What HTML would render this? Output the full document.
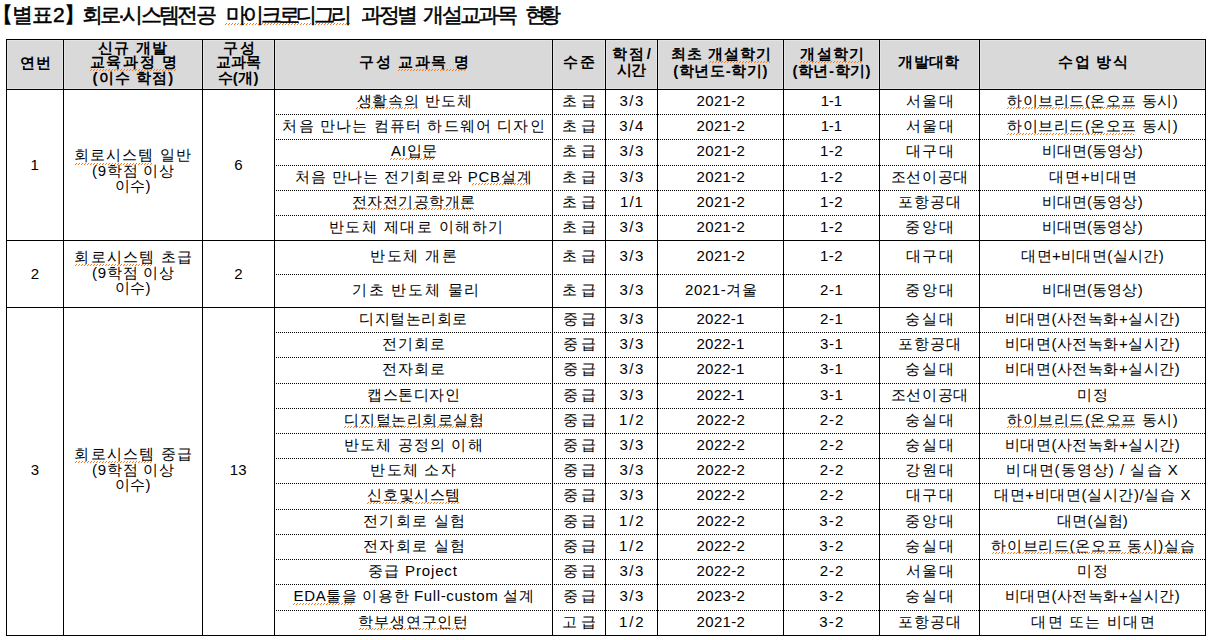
<!DOCTYPE html>
<html><head><meta charset="utf-8"><style>
html,body{margin:0;padding:0;background:#fff;width:1209px;height:640px;overflow:hidden}
body{position:relative;font-family:"Liberation Sans",sans-serif;color:#000}
.h{position:absolute;height:1px;background:#000}
.v{position:absolute;width:1px;background:#000}
.d{position:absolute;height:1px;background:repeating-linear-gradient(90deg,#000 0 1px,transparent 1px 2px)}
.hb{position:absolute;background:#d9d9d9;box-shadow:inset 0 0 0 1px #e3e3e3}
.t{position:absolute;height:0;line-height:0;text-align:center;white-space:nowrap;font-size:15px}
.b{font-weight:bold}
.tt{-webkit-text-stroke:0.5px #000}
.sq{position:absolute;height:2px}
.sq i,.sq b{position:absolute;left:0;right:0;height:1px;display:block}
.sq i{top:0;background:repeating-linear-gradient(90deg,transparent 0 1px,#ff7514 1px 2px,transparent 2px 3px)}
.sq b{top:1px;background:repeating-linear-gradient(90deg,#ff7514 0 1px,transparent 1px 3px)}
</style></head><body>
<div class="hb" style="left:7px;top:40px;width:56px;height:49px"></div>
<div class="hb" style="left:64px;top:40px;width:138px;height:49px"></div>
<div class="hb" style="left:203px;top:40px;width:71px;height:49px"></div>
<div class="hb" style="left:275px;top:40px;width:277px;height:49px"></div>
<div class="hb" style="left:553px;top:40px;width:52px;height:49px"></div>
<div class="hb" style="left:606px;top:40px;width:51px;height:49px"></div>
<div class="hb" style="left:658px;top:40px;width:125px;height:49px"></div>
<div class="hb" style="left:784px;top:40px;width:95px;height:49px"></div>
<div class="hb" style="left:880px;top:40px;width:99px;height:49px"></div>
<div class="hb" style="left:980px;top:40px;width:225px;height:49px"></div>
<div class="t b" style="left:-264.50px;width:600px;top:62.50px;letter-spacing:0.600px;text-indent:0.600px">연번</div>
<div class="t b" style="left:-167.65px;width:600px;top:47.50px;letter-spacing:1.295px;text-indent:1.295px">신규 개발</div>
<div class="t b" style="left:-166.50px;width:600px;top:62.40px;letter-spacing:1.632px;text-indent:1.632px">교육과정 명</div>
<div class="t b" style="left:-167.05px;width:600px;top:77.60px;letter-spacing:1.090px;text-indent:1.090px">(이수 학점)</div>
<div class="t b" style="left:-61.00px;width:600px;top:47.50px;letter-spacing:1.480px;text-indent:1.480px">구성</div>
<div class="t b" style="left:-61.50px;width:600px;top:62.40px;letter-spacing:0.200px;text-indent:0.200px">교과목</div>
<div class="t b" style="left:-62.00px;width:600px;top:77.60px;letter-spacing:0.333px;text-indent:0.333px">수(개)</div>
<div class="t b" style="left:114.00px;width:600px;top:62.00px;letter-spacing:1.537px;text-indent:1.537px">구성 교과목 명</div>
<div class="t b" style="left:279.00px;width:600px;top:62.00px;letter-spacing:1.640px;text-indent:1.640px">수준</div>
<div class="t b" style="left:331.35px;width:600px;top:53.80px;letter-spacing:2.470px;text-indent:2.470px">학점/</div>
<div class="t b" style="left:331.50px;width:600px;top:70.40px;letter-spacing:-0.840px;text-indent:-0.840px">시간</div>
<div class="t b" style="left:421.00px;width:600px;top:53.80px;letter-spacing:1.100px;text-indent:1.100px">최초 개설학기</div>
<div class="t b" style="left:420.40px;width:600px;top:70.60px;letter-spacing:0.623px;text-indent:0.623px">(학년도-학기)</div>
<div class="t b" style="left:532.15px;width:600px;top:53.80px;letter-spacing:1.180px;text-indent:1.180px">개설학기</div>
<div class="t b" style="left:531.50px;width:600px;top:70.60px;letter-spacing:0.527px;text-indent:0.527px">(학년-학기)</div>
<div class="t b" style="left:628.90px;width:600px;top:62.00px;letter-spacing:0.293px;text-indent:0.293px">개발대학</div>
<div class="t b" style="left:793.00px;width:600px;top:62.00px;letter-spacing:1.250px;text-indent:1.250px">수업 방식</div>
<div class="t" style="left:-265.25px;width:600px;top:164.60px">1</div>
<div class="t" style="left:-61.50px;width:600px;top:164.60px">6</div>
<div class="t" style="left:-167.50px;width:600px;top:155.30px;letter-spacing:1.000px;text-indent:1.000px">회로시스템 일반</div>
<div class="t" style="left:-167.05px;width:600px;top:170.80px;letter-spacing:0.723px;text-indent:0.723px">(9학점 이상</div>
<div class="t" style="left:-167.50px;width:600px;top:186.30px;letter-spacing:0.400px;text-indent:0.400px">이수)</div>
<div class="t" style="left:114.20px;width:600px;top:100.50px;letter-spacing:0.880px;text-indent:0.880px">생활속의 반도체</div>
<div class="t" style="left:279.00px;width:600px;top:100.50px;letter-spacing:3.360px;text-indent:3.360px">초급</div>
<div class="t" style="left:331.45px;width:600px;top:100.50px;letter-spacing:1.430px;text-indent:1.430px">3/3</div>
<div class="t" style="left:420.80px;width:600px;top:100.50px;letter-spacing:0.328px;text-indent:0.328px">2021-2</div>
<div class="t" style="left:531.35px;width:600px;top:100.50px;letter-spacing:-0.150px;text-indent:-0.150px">1-1</div>
<div class="t" style="left:630.00px;width:600px;top:100.50px;letter-spacing:1.300px;text-indent:1.300px">서울대</div>
<div class="t" style="left:792.55px;width:600px;top:100.50px;letter-spacing:0.522px;text-indent:0.522px">하이브리드(온오프 동시)</div>
<div class="t" style="left:113.50px;width:600px;top:125.50px;letter-spacing:1.142px;text-indent:1.142px">처음 만나는 컴퓨터 하드웨어 디자인</div>
<div class="t" style="left:279.00px;width:600px;top:125.50px;letter-spacing:3.360px;text-indent:3.360px">초급</div>
<div class="t" style="left:331.25px;width:600px;top:125.50px;letter-spacing:1.630px;text-indent:1.630px">3/4</div>
<div class="t" style="left:420.80px;width:600px;top:125.50px;letter-spacing:0.328px;text-indent:0.328px">2021-2</div>
<div class="t" style="left:531.35px;width:600px;top:125.50px;letter-spacing:-0.150px;text-indent:-0.150px">1-1</div>
<div class="t" style="left:630.00px;width:600px;top:125.50px;letter-spacing:1.300px;text-indent:1.300px">서울대</div>
<div class="t" style="left:792.55px;width:600px;top:125.50px;letter-spacing:0.522px;text-indent:0.522px">하이브리드(온오프 동시)</div>
<div class="d" style="top:114px;left:276px;width:929px"></div>
<div class="t" style="left:114.20px;width:600px;top:151.00px;letter-spacing:0.653px;text-indent:0.653px">AI입문</div>
<div class="t" style="left:279.00px;width:600px;top:151.00px;letter-spacing:3.360px;text-indent:3.360px">초급</div>
<div class="t" style="left:331.45px;width:600px;top:151.00px;letter-spacing:1.430px;text-indent:1.430px">3/3</div>
<div class="t" style="left:420.80px;width:600px;top:151.00px;letter-spacing:0.328px;text-indent:0.328px">2021-2</div>
<div class="t" style="left:531.25px;width:600px;top:151.00px;letter-spacing:0.470px;text-indent:0.470px">1-2</div>
<div class="t" style="left:630.00px;width:600px;top:151.00px;letter-spacing:1.300px;text-indent:1.300px">대구대</div>
<div class="t" style="left:792.15px;width:600px;top:151.00px;letter-spacing:0.146px;text-indent:0.146px">비대면(동영상)</div>
<div class="d" style="top:139px;left:276px;width:929px"></div>
<div class="t" style="left:113.45px;width:600px;top:176.50px;letter-spacing:0.768px;text-indent:0.768px">처음 만나는 전기회로와 PCB설계</div>
<div class="t" style="left:279.00px;width:600px;top:176.50px;letter-spacing:3.360px;text-indent:3.360px">초급</div>
<div class="t" style="left:331.45px;width:600px;top:176.50px;letter-spacing:1.430px;text-indent:1.430px">3/3</div>
<div class="t" style="left:420.80px;width:600px;top:176.50px;letter-spacing:0.328px;text-indent:0.328px">2021-2</div>
<div class="t" style="left:531.25px;width:600px;top:176.50px;letter-spacing:0.470px;text-indent:0.470px">1-2</div>
<div class="t" style="left:629.50px;width:600px;top:176.50px;letter-spacing:0.730px;text-indent:0.730px">조선이공대</div>
<div class="t" style="left:793.00px;width:600px;top:176.50px;letter-spacing:0.664px;text-indent:0.664px">대면+비대면</div>
<div class="d" style="top:165px;left:276px;width:929px"></div>
<div class="t" style="left:113.50px;width:600px;top:201.50px;letter-spacing:0.554px;text-indent:0.554px">전자전기공학개론</div>
<div class="t" style="left:279.00px;width:600px;top:201.50px;letter-spacing:3.360px;text-indent:3.360px">초급</div>
<div class="t" style="left:331.50px;width:600px;top:201.50px;letter-spacing:1.000px;text-indent:1.000px">1/1</div>
<div class="t" style="left:420.80px;width:600px;top:201.50px;letter-spacing:0.328px;text-indent:0.328px">2021-2</div>
<div class="t" style="left:531.25px;width:600px;top:201.50px;letter-spacing:0.470px;text-indent:0.470px">1-2</div>
<div class="t" style="left:629.40px;width:600px;top:201.50px;letter-spacing:0.800px;text-indent:0.800px">포항공대</div>
<div class="t" style="left:792.15px;width:600px;top:201.50px;letter-spacing:0.146px;text-indent:0.146px">비대면(동영상)</div>
<div class="d" style="top:190px;left:276px;width:929px"></div>
<div class="t" style="left:116.00px;width:600px;top:226.50px;letter-spacing:1.462px;text-indent:1.462px">반도체 제대로 이해하기</div>
<div class="t" style="left:279.00px;width:600px;top:226.50px;letter-spacing:3.360px;text-indent:3.360px">초급</div>
<div class="t" style="left:331.45px;width:600px;top:226.50px;letter-spacing:1.430px;text-indent:1.430px">3/3</div>
<div class="t" style="left:420.80px;width:600px;top:226.50px;letter-spacing:0.328px;text-indent:0.328px">2021-2</div>
<div class="t" style="left:531.25px;width:600px;top:226.50px;letter-spacing:0.470px;text-indent:0.470px">1-2</div>
<div class="t" style="left:629.65px;width:600px;top:226.50px;letter-spacing:1.650px;text-indent:1.650px">중앙대</div>
<div class="t" style="left:792.15px;width:600px;top:226.50px;letter-spacing:0.146px;text-indent:0.146px">비대면(동영상)</div>
<div class="d" style="top:215px;left:276px;width:929px"></div>
<div class="t" style="left:-265.00px;width:600px;top:274.00px">2</div>
<div class="t" style="left:-61.50px;width:600px;top:274.00px">2</div>
<div class="t" style="left:-166.85px;width:600px;top:257.20px;letter-spacing:1.203px;text-indent:1.203px">회로시스템 초급</div>
<div class="t" style="left:-167.05px;width:600px;top:272.60px;letter-spacing:0.723px;text-indent:0.723px">(9학점 이상</div>
<div class="t" style="left:-167.50px;width:600px;top:288.00px;letter-spacing:0.400px;text-indent:0.400px">이수)</div>
<div class="t" style="left:113.50px;width:600px;top:256.00px;letter-spacing:1.376px;text-indent:1.376px">반도체 개론</div>
<div class="t" style="left:279.00px;width:600px;top:256.00px;letter-spacing:3.360px;text-indent:3.360px">초급</div>
<div class="t" style="left:331.45px;width:600px;top:256.00px;letter-spacing:1.430px;text-indent:1.430px">3/3</div>
<div class="t" style="left:420.80px;width:600px;top:256.00px;letter-spacing:0.328px;text-indent:0.328px">2021-2</div>
<div class="t" style="left:531.25px;width:600px;top:256.00px;letter-spacing:0.470px;text-indent:0.470px">1-2</div>
<div class="t" style="left:630.00px;width:600px;top:256.00px;letter-spacing:1.300px;text-indent:1.300px">대구대</div>
<div class="t" style="left:792.50px;width:600px;top:256.00px;letter-spacing:0.400px;text-indent:0.400px">대면+비대면(실시간)</div>
<div class="t" style="left:115.65px;width:600px;top:289.50px;letter-spacing:1.797px;text-indent:1.797px">기초 반도체 물리</div>
<div class="t" style="left:279.00px;width:600px;top:289.50px;letter-spacing:3.360px;text-indent:3.360px">초급</div>
<div class="t" style="left:331.45px;width:600px;top:289.50px;letter-spacing:1.430px;text-indent:1.430px">3/3</div>
<div class="t" style="left:420.95px;width:600px;top:289.50px;letter-spacing:0.577px;text-indent:0.577px">2021-겨울</div>
<div class="t" style="left:531.50px;width:600px;top:289.50px;letter-spacing:0.640px;text-indent:0.640px">2-1</div>
<div class="t" style="left:629.65px;width:600px;top:289.50px;letter-spacing:1.650px;text-indent:1.650px">중앙대</div>
<div class="t" style="left:792.15px;width:600px;top:289.50px;letter-spacing:0.146px;text-indent:0.146px">비대면(동영상)</div>
<div class="d" style="top:274px;left:276px;width:929px"></div>
<div class="t" style="left:-265.00px;width:600px;top:470.10px">3</div>
<div class="t" style="left:-61.85px;width:600px;top:470.10px">13</div>
<div class="t" style="left:-166.85px;width:600px;top:454.40px;letter-spacing:1.203px;text-indent:1.203px">회로시스템 중급</div>
<div class="t" style="left:-167.05px;width:600px;top:469.50px;letter-spacing:0.723px;text-indent:0.723px">(9학점 이상</div>
<div class="t" style="left:-167.50px;width:600px;top:484.50px;letter-spacing:0.400px;text-indent:0.400px">이수)</div>
<div class="t" style="left:113.40px;width:600px;top:318.50px;letter-spacing:0.520px;text-indent:0.520px">디지털논리회로</div>
<div class="t" style="left:279.15px;width:600px;top:318.50px;letter-spacing:3.060px;text-indent:3.060px">중급</div>
<div class="t" style="left:331.45px;width:600px;top:318.50px;letter-spacing:1.430px;text-indent:1.430px">3/3</div>
<div class="t" style="left:420.50px;width:600px;top:318.50px;letter-spacing:0.240px;text-indent:0.240px">2022-1</div>
<div class="t" style="left:531.50px;width:600px;top:318.50px;letter-spacing:0.640px;text-indent:0.640px">2-1</div>
<div class="t" style="left:629.65px;width:600px;top:318.50px;letter-spacing:1.650px;text-indent:1.650px">숭실대</div>
<div class="t" style="left:792.30px;width:600px;top:318.50px;letter-spacing:0.497px;text-indent:0.497px">비대면(사전녹화+실시간)</div>
<div class="t" style="left:113.40px;width:600px;top:343.50px;letter-spacing:1.240px;text-indent:1.240px">전기회로</div>
<div class="t" style="left:279.15px;width:600px;top:343.50px;letter-spacing:3.060px;text-indent:3.060px">중급</div>
<div class="t" style="left:331.45px;width:600px;top:343.50px;letter-spacing:1.430px;text-indent:1.430px">3/3</div>
<div class="t" style="left:420.50px;width:600px;top:343.50px;letter-spacing:0.240px;text-indent:0.240px">2022-1</div>
<div class="t" style="left:531.50px;width:600px;top:343.50px;letter-spacing:0.640px;text-indent:0.640px">3-1</div>
<div class="t" style="left:629.40px;width:600px;top:343.50px;letter-spacing:0.800px;text-indent:0.800px">포항공대</div>
<div class="t" style="left:792.30px;width:600px;top:343.50px;letter-spacing:0.497px;text-indent:0.497px">비대면(사전녹화+실시간)</div>
<div class="d" style="top:332px;left:276px;width:929px"></div>
<div class="t" style="left:113.40px;width:600px;top:369.00px;letter-spacing:1.240px;text-indent:1.240px">전자회로</div>
<div class="t" style="left:279.15px;width:600px;top:369.00px;letter-spacing:3.060px;text-indent:3.060px">중급</div>
<div class="t" style="left:331.45px;width:600px;top:369.00px;letter-spacing:1.430px;text-indent:1.430px">3/3</div>
<div class="t" style="left:420.50px;width:600px;top:369.00px;letter-spacing:0.240px;text-indent:0.240px">2022-1</div>
<div class="t" style="left:531.50px;width:600px;top:369.00px;letter-spacing:0.640px;text-indent:0.640px">3-1</div>
<div class="t" style="left:629.65px;width:600px;top:369.00px;letter-spacing:1.650px;text-indent:1.650px">숭실대</div>
<div class="t" style="left:792.30px;width:600px;top:369.00px;letter-spacing:0.497px;text-indent:0.497px">비대면(사전녹화+실시간)</div>
<div class="d" style="top:357px;left:276px;width:929px"></div>
<div class="t" style="left:113.40px;width:600px;top:394.50px;letter-spacing:0.480px;text-indent:0.480px">캡스톤디자인</div>
<div class="t" style="left:279.15px;width:600px;top:394.50px;letter-spacing:3.060px;text-indent:3.060px">중급</div>
<div class="t" style="left:331.45px;width:600px;top:394.50px;letter-spacing:1.430px;text-indent:1.430px">3/3</div>
<div class="t" style="left:420.50px;width:600px;top:394.50px;letter-spacing:0.240px;text-indent:0.240px">2022-1</div>
<div class="t" style="left:531.50px;width:600px;top:394.50px;letter-spacing:0.640px;text-indent:0.640px">3-1</div>
<div class="t" style="left:629.50px;width:600px;top:394.50px;letter-spacing:0.730px;text-indent:0.730px">조선이공대</div>
<div class="t" style="left:792.50px;width:600px;top:394.50px;letter-spacing:1.800px;text-indent:1.800px">미정</div>
<div class="d" style="top:383px;left:276px;width:929px"></div>
<div class="t" style="left:114.05px;width:600px;top:419.50px;letter-spacing:0.512px;text-indent:0.512px">디지털논리회로실험</div>
<div class="t" style="left:279.15px;width:600px;top:419.50px;letter-spacing:3.060px;text-indent:3.060px">중급</div>
<div class="t" style="left:331.25px;width:600px;top:419.50px;letter-spacing:1.850px;text-indent:1.850px">1/2</div>
<div class="t" style="left:420.80px;width:600px;top:419.50px;letter-spacing:0.328px;text-indent:0.328px">2022-2</div>
<div class="t" style="left:531.50px;width:600px;top:419.50px;letter-spacing:0.900px;text-indent:0.900px">2-2</div>
<div class="t" style="left:629.65px;width:600px;top:419.50px;letter-spacing:1.650px;text-indent:1.650px">숭실대</div>
<div class="t" style="left:792.55px;width:600px;top:419.50px;letter-spacing:0.522px;text-indent:0.522px">하이브리드(온오프 동시)</div>
<div class="d" style="top:408px;left:276px;width:929px"></div>
<div class="t" style="left:113.30px;width:600px;top:444.50px;letter-spacing:1.156px;text-indent:1.156px">반도체 공정의 이해</div>
<div class="t" style="left:279.15px;width:600px;top:444.50px;letter-spacing:3.060px;text-indent:3.060px">중급</div>
<div class="t" style="left:331.45px;width:600px;top:444.50px;letter-spacing:1.430px;text-indent:1.430px">3/3</div>
<div class="t" style="left:420.80px;width:600px;top:444.50px;letter-spacing:0.328px;text-indent:0.328px">2022-2</div>
<div class="t" style="left:531.50px;width:600px;top:444.50px;letter-spacing:0.900px;text-indent:0.900px">2-2</div>
<div class="t" style="left:629.65px;width:600px;top:444.50px;letter-spacing:1.650px;text-indent:1.650px">숭실대</div>
<div class="t" style="left:792.30px;width:600px;top:444.50px;letter-spacing:0.497px;text-indent:0.497px">비대면(사전녹화+실시간)</div>
<div class="d" style="top:433px;left:276px;width:929px"></div>
<div class="t" style="left:113.05px;width:600px;top:469.50px;letter-spacing:1.196px;text-indent:1.196px">반도체 소자</div>
<div class="t" style="left:279.15px;width:600px;top:469.50px;letter-spacing:3.060px;text-indent:3.060px">중급</div>
<div class="t" style="left:331.45px;width:600px;top:469.50px;letter-spacing:1.430px;text-indent:1.430px">3/3</div>
<div class="t" style="left:420.80px;width:600px;top:469.50px;letter-spacing:0.328px;text-indent:0.328px">2022-2</div>
<div class="t" style="left:531.50px;width:600px;top:469.50px;letter-spacing:0.900px;text-indent:0.900px">2-2</div>
<div class="t" style="left:629.50px;width:600px;top:469.50px;letter-spacing:1.800px;text-indent:1.800px">강원대</div>
<div class="t" style="left:792.15px;width:600px;top:469.50px;letter-spacing:1.050px;text-indent:1.050px">비대면(동영상) / 실습 X</div>
<div class="d" style="top:458px;left:276px;width:929px"></div>
<div class="t" style="left:113.85px;width:600px;top:495.00px;letter-spacing:0.652px;text-indent:0.652px">신호및시스템</div>
<div class="t" style="left:279.15px;width:600px;top:495.00px;letter-spacing:3.060px;text-indent:3.060px">중급</div>
<div class="t" style="left:331.45px;width:600px;top:495.00px;letter-spacing:1.430px;text-indent:1.430px">3/3</div>
<div class="t" style="left:420.80px;width:600px;top:495.00px;letter-spacing:0.328px;text-indent:0.328px">2022-2</div>
<div class="t" style="left:531.50px;width:600px;top:495.00px;letter-spacing:0.900px;text-indent:0.900px">2-2</div>
<div class="t" style="left:630.00px;width:600px;top:495.00px;letter-spacing:1.300px;text-indent:1.300px">대구대</div>
<div class="t" style="left:792.25px;width:600px;top:495.00px;letter-spacing:0.615px;text-indent:0.615px">대면+비대면(실시간)/실습 X</div>
<div class="d" style="top:483px;left:276px;width:929px"></div>
<div class="t" style="left:114.00px;width:600px;top:520.50px;letter-spacing:1.300px;text-indent:1.300px">전기회로 실험</div>
<div class="t" style="left:279.15px;width:600px;top:520.50px;letter-spacing:3.060px;text-indent:3.060px">중급</div>
<div class="t" style="left:331.25px;width:600px;top:520.50px;letter-spacing:1.850px;text-indent:1.850px">1/2</div>
<div class="t" style="left:420.80px;width:600px;top:520.50px;letter-spacing:0.328px;text-indent:0.328px">2022-2</div>
<div class="t" style="left:531.25px;width:600px;top:520.50px;letter-spacing:1.150px;text-indent:1.150px">3-2</div>
<div class="t" style="left:629.65px;width:600px;top:520.50px;letter-spacing:1.650px;text-indent:1.650px">중앙대</div>
<div class="t" style="left:792.50px;width:600px;top:520.50px;letter-spacing:0.152px;text-indent:0.152px">대면(실험)</div>
<div class="d" style="top:509px;left:276px;width:929px"></div>
<div class="t" style="left:114.00px;width:600px;top:545.50px;letter-spacing:1.300px;text-indent:1.300px">전자회로 실험</div>
<div class="t" style="left:279.15px;width:600px;top:545.50px;letter-spacing:3.060px;text-indent:3.060px">중급</div>
<div class="t" style="left:331.25px;width:600px;top:545.50px;letter-spacing:1.850px;text-indent:1.850px">1/2</div>
<div class="t" style="left:420.80px;width:600px;top:545.50px;letter-spacing:0.328px;text-indent:0.328px">2022-2</div>
<div class="t" style="left:531.25px;width:600px;top:545.50px;letter-spacing:1.150px;text-indent:1.150px">3-2</div>
<div class="t" style="left:629.65px;width:600px;top:545.50px;letter-spacing:1.650px;text-indent:1.650px">숭실대</div>
<div class="t" style="left:793.00px;width:600px;top:545.50px;letter-spacing:0.649px;text-indent:0.649px">하이브리드(온오프 동시)실습</div>
<div class="d" style="top:534px;left:276px;width:929px"></div>
<div class="t" style="left:112.65px;width:600px;top:570.50px;letter-spacing:0.833px;text-indent:0.833px">중급 Project</div>
<div class="t" style="left:279.15px;width:600px;top:570.50px;letter-spacing:3.060px;text-indent:3.060px">중급</div>
<div class="t" style="left:331.45px;width:600px;top:570.50px;letter-spacing:1.430px;text-indent:1.430px">3/3</div>
<div class="t" style="left:420.80px;width:600px;top:570.50px;letter-spacing:0.328px;text-indent:0.328px">2022-2</div>
<div class="t" style="left:531.50px;width:600px;top:570.50px;letter-spacing:0.900px;text-indent:0.900px">2-2</div>
<div class="t" style="left:630.00px;width:600px;top:570.50px;letter-spacing:1.300px;text-indent:1.300px">서울대</div>
<div class="t" style="left:792.50px;width:600px;top:570.50px;letter-spacing:1.800px;text-indent:1.800px">미정</div>
<div class="d" style="top:559px;left:276px;width:929px"></div>
<div class="t" style="left:113.70px;width:600px;top:596.00px;letter-spacing:0.623px;text-indent:0.623px">EDA툴을 이용한 Full-custom 설계</div>
<div class="t" style="left:279.15px;width:600px;top:596.00px;letter-spacing:3.060px;text-indent:3.060px">중급</div>
<div class="t" style="left:331.45px;width:600px;top:596.00px;letter-spacing:1.430px;text-indent:1.430px">3/3</div>
<div class="t" style="left:420.80px;width:600px;top:596.00px;letter-spacing:0.328px;text-indent:0.328px">2023-2</div>
<div class="t" style="left:531.25px;width:600px;top:596.00px;letter-spacing:1.150px;text-indent:1.150px">3-2</div>
<div class="t" style="left:629.65px;width:600px;top:596.00px;letter-spacing:1.650px;text-indent:1.650px">숭실대</div>
<div class="t" style="left:792.30px;width:600px;top:596.00px;letter-spacing:0.497px;text-indent:0.497px">비대면(사전녹화+실시간)</div>
<div class="d" style="top:584px;left:276px;width:929px"></div>
<div class="t" style="left:113.35px;width:600px;top:621.50px;letter-spacing:0.823px;text-indent:0.823px">학부생연구인턴</div>
<div class="t" style="left:279.00px;width:600px;top:621.50px;letter-spacing:3.360px;text-indent:3.360px">고급</div>
<div class="t" style="left:331.25px;width:600px;top:621.50px;letter-spacing:1.850px;text-indent:1.850px">1/2</div>
<div class="t" style="left:420.80px;width:600px;top:621.50px;letter-spacing:0.328px;text-indent:0.328px">2021-2</div>
<div class="t" style="left:531.25px;width:600px;top:621.50px;letter-spacing:1.150px;text-indent:1.150px">3-2</div>
<div class="t" style="left:629.40px;width:600px;top:621.50px;letter-spacing:0.800px;text-indent:0.800px">포항공대</div>
<div class="t" style="left:793.00px;width:600px;top:621.50px;letter-spacing:1.225px;text-indent:1.225px">대면 또는 비대면</div>
<div class="d" style="top:610px;left:276px;width:929px"></div>
<div class="h" style="top:39px;left:6px;width:1200px"></div>
<div class="h" style="top:89px;left:6px;width:1200px"></div>
<div class="h" style="top:240px;left:6px;width:1200px"></div>
<div class="h" style="top:307px;left:6px;width:1200px"></div>
<div class="h" style="top:635px;left:6px;width:1200px"></div>
<div class="v" style="left:6px;top:39px;height:597px"></div>
<div class="v" style="left:63px;top:39px;height:597px"></div>
<div class="v" style="left:202px;top:39px;height:597px"></div>
<div class="v" style="left:274px;top:39px;height:597px"></div>
<div class="v" style="left:552px;top:39px;height:597px"></div>
<div class="v" style="left:605px;top:39px;height:597px"></div>
<div class="v" style="left:657px;top:39px;height:597px"></div>
<div class="v" style="left:783px;top:39px;height:597px"></div>
<div class="v" style="left:879px;top:39px;height:597px"></div>
<div class="v" style="left:979px;top:39px;height:597px"></div>
<div class="v" style="left:1205px;top:39px;height:597px"></div>
<div class="sq" style="left:225px;top:23px;width:126px"><i></i><b></b></div>
<div class="sq" style="left:90px;top:69px;width:86px"><i></i><b></b></div>
<div class="sq" style="left:398px;top:69px;width:69px"><i></i><b></b></div>
<div class="sq" style="left:709px;top:61px;width:61px"><i></i><b></b></div>
<div class="sq" style="left:800px;top:61px;width:62px"><i></i><b></b></div>
<div class="sq" style="left:356px;top:107px;width:62px"><i></i><b></b></div>
<div class="sq" style="left:390px;top:158px;width:45px"><i></i><b></b></div>
<div class="sq" style="left:472px;top:183px;width:58px"><i></i><b></b></div>
<div class="sq" style="left:353px;top:208px;width:121px"><i></i><b></b></div>
<div class="sq" style="left:1007px;top:107px;width:127px"><i></i><b></b></div>
<div class="sq" style="left:1007px;top:133px;width:127px"><i></i><b></b></div>
<div class="sq" style="left:75px;top:163px;width:78px"><i></i><b></b></div>
<div class="sq" style="left:75px;top:264px;width:78px"><i></i><b></b></div>
<div class="sq" style="left:75px;top:461px;width:78px"><i></i><b></b></div>
<div class="sq" style="left:344px;top:426px;width:138px"><i></i><b></b></div>
<div class="sq" style="left:1007px;top:426px;width:127px"><i></i><b></b></div>
<div class="sq" style="left:367px;top:502px;width:93px"><i></i><b></b></div>
<div class="sq" style="left:992px;top:552px;width:201px"><i></i><b></b></div>
<div class="sq" style="left:293px;top:603px;width:60px"><i></i><b></b></div>
<div class="sq" style="left:359px;top:628px;width:108px"><i></i><b></b></div>
<div class="t tt" style="left:-261.66px;width:600px;top:14.60px;font-size:21px;letter-spacing:-0.520px;text-indent:-0.520px">【별표2】</div>
<div class="t tt" style="left:-150.97px;width:600px;top:14.60px;font-size:21px;letter-spacing:-2.720px;text-indent:-2.720px">회로·시스템전공</div>
<div class="t tt" style="left:-11.00px;width:600px;top:14.60px;font-size:21px;letter-spacing:-3.380px;text-indent:-3.380px">마이크로디그리</div>
<div class="t tt" style="left:89.10px;width:600px;top:14.60px;font-size:21px;letter-spacing:-2.940px;text-indent:-2.940px">과정별</div>
<div class="t tt" style="left:170.47px;width:600px;top:14.60px;font-size:21px;letter-spacing:-2.720px;text-indent:-2.720px">개설교과목</div>
<div class="t tt" style="left:242.58px;width:600px;top:14.60px;font-size:21px;letter-spacing:-5.880px;text-indent:-5.880px">현황</div>
</body></html>
